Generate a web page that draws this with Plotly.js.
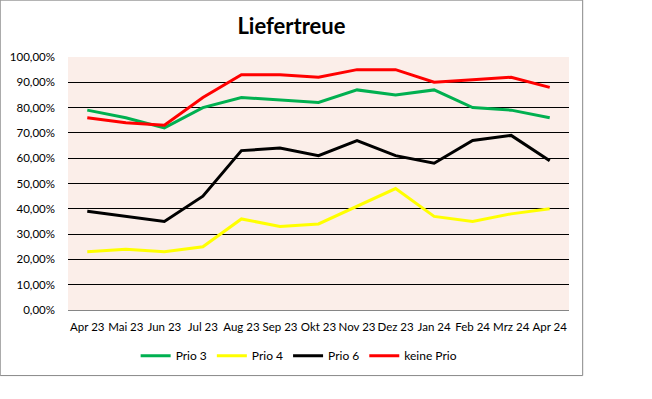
<!DOCTYPE html>
<html>
<head>
<meta charset="utf-8">
<script src="https://cdn.plot.ly/plotly-3.0.1.min.js"></script>
<style>
html,body{margin:0;padding:0;background:#fff;}
#chart{width:652px;height:399px;}
</style>
</head>
<body>
<div id="chart"></div>
<script>
const months = ["Apr 23","Mai 23","Jun 23","Jul 23","Aug 23","Sep 23","Okt 23","Nov 23","Dez 23","Jan 24","Feb 24","Mrz 24","Apr 24"];
const prio3 = [79,76,72,80,84,83,82,87,85,87,80,79,76];
const prio4 = [23,24,23,25,36,33,34,41,48,37,35,38,40];
const prio6 = [39,37,35,45,63,64,61,67,61,58,67,69,59];
const keinePrio = [76,74,73,84,93,93,92,95,95,90,91,92,88];
const seriesNames = ["Prio 3","Prio 4","Prio 6","keine Prio"];
const seriesColors = ["#00B050","#FFFF00","#000000","#FF0000"];
const yTicks = [0,10,20,30,40,50,60,70,80,90,100];
const yTickLabels = yTicks.map(v => v.toFixed(2).replace(".", ",") + "%");

const allSeries = [prio3, prio4, prio6, keinePrio];
const FONT = "Lato, 'Open Sans', sans-serif";

const traces = allSeries.map((vals, i) => ({
  type: "scatter",
  mode: "lines",
  x: months,
  y: vals,
  name: seriesNames[i],
  line: {color: seriesColors[i], width: 3},
  hoverinfo: "skip"
}));

const layout = {
  width: 652,
  height: 399,
  margin: {l: 68, r: 83, t: 57, b: 89, pad: 0},
  paper_bgcolor: "#ffffff",
  plot_bgcolor: "#FBEEE9",
  font: {family: FONT, size: 11, color: "#000"},
  title: {
    text: "<b>Liefertreue</b>",
    font: {family: FONT, size: 22, color: "#000"},
    x: 0.447, xref: "container", xanchor: "center",
    y: 0.933, yref: "container", yanchor: "middle"
  },
  showlegend: true,
  legend: {
    orientation: "h",
    x: 0.135, xanchor: "left",
    y: -0.181, yanchor: "middle",
    font: {family: FONT, size: 12, color: "#000"},
    itemwidth: 30,
    tracegroupgap: 0,
    bgcolor: "rgba(0,0,0,0)"
  },
  xaxis: {
    type: "category",
    showgrid: false,
    showline: true,
    linecolor: "#868686",
    linewidth: 1,
    ticks: "",
    tickangle: 0,
    tickfont: {family: FONT, size: 11.5, color: "#000"},
    ticklabelstandoff: 6,
    range: [-0.5, months.length - 0.5],
    fixedrange: true
  },
  yaxis: {
    range: [0, 100],
    tickmode: "array",
    tickvals: yTicks,
    ticktext: yTickLabels,
    showgrid: true,
    gridcolor: "#000000",
    gridwidth: 1,
    zeroline: true,
    zerolinecolor: "#868686",
    zerolinewidth: 1,
    showline: false,
    ticks: "",
    ticklabelstandoff: 12,
    tickfont: {family: FONT, size: 11.5, color: "#000"},
    fixedrange: true
  },
  shapes: [{
    type: "rect",
    xref: "paper", yref: "paper",
    x0: -0.1353, x1: 1.0273,
    y0: -0.2592, y1: 1.2248,
    line: {color: "#888888", width: 1},
    fillcolor: "rgba(0,0,0,0)",
    layer: "below"
  }]
};

Plotly.newPlot("chart", traces, layout, {staticPlot: true, displayModeBar: false});
</script>
</body>
</html>
